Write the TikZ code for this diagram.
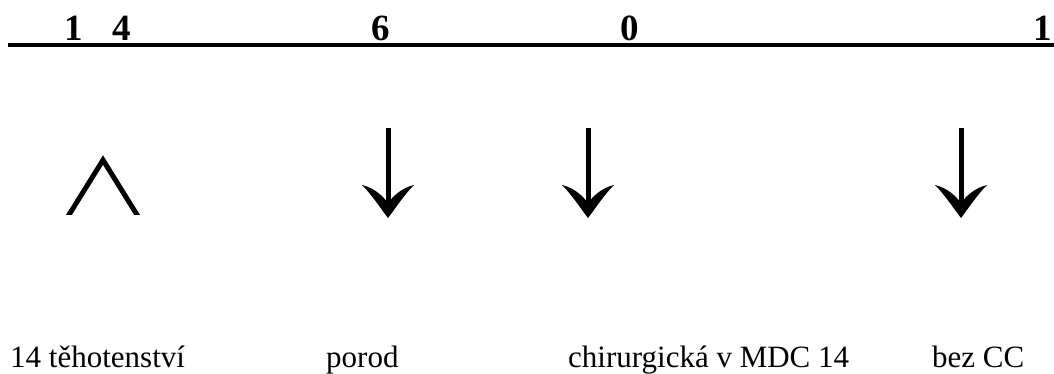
\documentclass[tikz,border=0pt]{standalone}
\usepackage{fontspec}
\setmainfont{Liberation Serif}
\tikzset{
  digit/.style={inner sep=0pt, anchor=base, font=\fontsize{37}{42}\selectfont\bfseries},
  label/.style={inner sep=0pt, anchor=base west, font=\fontsize{31}{36}\selectfont},
  shaft/.style={line width=5pt},
  head/.style={fill=black, draw=none}
}
\newcommand{\downarrowat}[1]{%
  \draw[shaft] (#1,128) -- (#1,207);
  \fill[head] (#1,218) .. controls (#1-9,206) and (#1-17,194) .. (#1-26,185)
    .. controls (#1-14,188) and (#1-6,195) .. (#1,203)
    .. controls (#1+6,195) and (#1+14,188) .. (#1+26,185)
    .. controls (#1+17,194) and (#1+9,206) .. (#1,218) -- cycle;
}
\begin{document}
\begin{tikzpicture}[x=1pt,y=-1pt]
\useasboundingbox (0,0) rectangle (1054,373);
% top line
\coordinate (L) at (8,45);
\coordinate (R) at (1054,45);
\draw[line width=4.5pt] (L) -- (R);
% digits
\node[digit] (d1) at (74,40) {1};
\node[digit] (d4) at (122,40) {4};
\node[digit] (d6) at (381,40) {6};
\node[digit] (d0) at (630,40) {0};
\node[digit] (d1b) at (1043,40) {1};
% wedge
\begin{scope}
\clip (50,150) rectangle (160,214);
\draw[line width=5pt, miter limit=10] (67,218) -- (103,160) -- (139,218);
\end{scope}
% down arrows
\downarrowat{388}
\downarrowat{588}
\downarrowat{961}
% labels
\node[label] (t1) at (10,367) {14 těhotenství};
\node[label] (t2) at (326,367) {porod};
\node[label] (t3) at (568,367) {chirurgická v MDC 14};
\node[label] (t4) at (932,367) {bez CC};
\end{tikzpicture}
\end{document}
